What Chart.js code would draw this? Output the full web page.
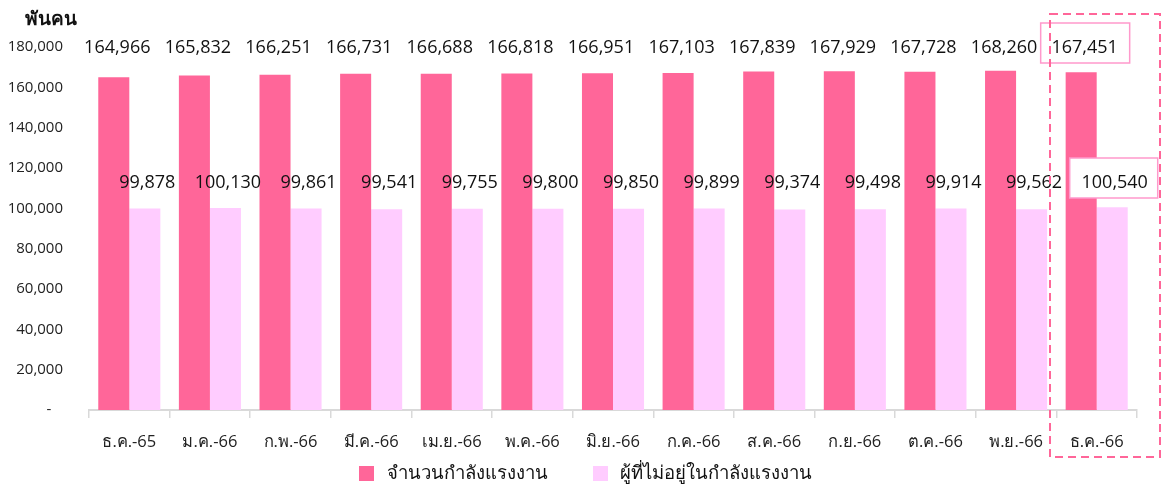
<!DOCTYPE html>
<html>
<head>
<meta charset="utf-8">
<script src="https://cdn.jsdelivr.net/npm/chart.js@4"></script>
<style>
  html, body { margin: 0; padding: 0; background: #fff; }
  #wrap { width: 1161px; height: 488px; position: relative; }
</style>
</head>
<body>
<div id="wrap"><canvas id="c" width="1161" height="488"></canvas></div>
<script>
// Monthly labour force figures (thousand persons)
const months = ['ธ.ค.-65','ม.ค.-66','ก.พ.-66','มี.ค.-66','เม.ย.-66','พ.ค.-66','มิ.ย.-66','ก.ค.-66','ส.ค.-66','ก.ย.-66','ต.ค.-66','พ.ย.-66','ธ.ค.-66'];
const labourForce = [164966,165832,166251,166731,166688,166818,166951,167103,167839,167929,167728,168260,167451];
const outsideLabourForce = [99878,100130,99861,99541,99755,99800,99850,99899,99374,99498,99914,99562,100540];
const seriesNames = ['จำนวนกำลังแรงงาน','ผู้ที่ไม่อยู่ในกำลังแรงงาน'];
const unitLabel = 'พันคน';
const yTicks = [0,20000,40000,60000,80000,100000,120000,140000,160000,180000];

const PINK = '#FF6699';
const LIGHT = '#FFCCFF';
const FONT = '"Open Sans", "Noto Sans", sans-serif';
const fmt = v => v.toLocaleString('en-US');

// Value labels, highlight boxes, dashed frame on the latest month, unit title and legend
const overlay = {
  id: 'overlay',
  afterDatasetsDraw(chart) {
    const ctx = chart.ctx;
    const m0 = chart.getDatasetMeta(0), m1 = chart.getDatasetMeta(1);
    const last = months.length - 1;
    ctx.save();
    ctx.font = '18px ' + FONT;
    ctx.textAlign = 'center';
    ctx.textBaseline = 'middle';
    // highlight boxes behind the latest values
    const b0 = m0.data[last], b1 = m1.data[last];
    ctx.lineWidth = 1.5;
    ctx.strokeStyle = '#FF99CC';
    ctx.fillStyle = '#fff';
    ctx.fillRect(b0.x + 3.5 - 44, 23, 89, 40);
    ctx.strokeRect(b0.x + 3.5 - 44, 23, 89, 40);
    ctx.fillRect(b1.x + 2.5 - 45, 158, 88, 40);
    ctx.strokeRect(b1.x + 2.5 - 45, 158, 88, 40);
    ctx.fillStyle = '#111';
    labourForce.forEach((v, i) => {
      ctx.fillText(fmt(v), m0.data[i].x + 3.5, 48);
    });
    outsideLabourForce.forEach((v, i) => {
      ctx.fillText(fmt(v), m1.data[i].x + 2.5, 183);
    });
    // dashed frame around the latest month
    ctx.setLineDash([8, 5]);
    ctx.lineWidth = 2;
    ctx.strokeStyle = PINK;
    ctx.strokeRect(1050, 14, 110, 443);
    ctx.setLineDash([]);
    // unit title
    ctx.font = 'bold 19px ' + FONT;
    ctx.textAlign = 'left';
    ctx.fillText(unitLabel, 25, 20);
    // legend
    ctx.font = '18.5px ' + FONT;
    ctx.fillStyle = PINK;
    ctx.fillRect(359, 466, 15, 15);
    ctx.fillStyle = LIGHT;
    ctx.fillRect(593, 466, 15, 15);
    ctx.fillStyle = '#111';
    ctx.fillText(seriesNames[0], 387, 474);
    ctx.fillText(seriesNames[1], 620, 474);
    ctx.restore();
  }
};

new Chart(document.getElementById('c'), {
  type: 'bar',
  data: {
    labels: months,
    datasets: [
      { label: seriesNames[0], data: labourForce, backgroundColor: PINK },
      { label: seriesNames[1], data: outsideLabourForce, backgroundColor: LIGHT }
    ]
  },
  options: {
    responsive: false,
    animation: false,
    layout: { padding: { top: 47, right: 24, bottom: 0, left: 0 } },
    datasets: { bar: { categoryPercentage: 0.77, barPercentage: 1.0 } },
    plugins: { legend: { display: false }, tooltip: { enabled: false } },
    scales: {
      x: {
        grid: { display: true, drawOnChartArea: false, drawTicks: true, tickLength: 8, color: '#d9d9d9', lineWidth: 1.5, offset: true },
        border: { display: true, color: '#d9d9d9', width: 2 },
        ticks: { color: '#222', font: { family: FONT, size: 16.5 }, padding: 14, maxRotation: 0, autoSkip: false },
        afterFit(s) { s.height = 78; }
      },
      y: {
        min: 0, max: 180000,
        afterBuildTicks(s) { s.ticks = yTicks.map(v => ({ value: v })); },
        grid: { display: false },
        border: { display: false },
        ticks: {
          color: '#222', font: { family: FONT, size: 15 }, padding: 18,
          callback: v => v === 0 ? '-   ' : fmt(v)
        },
        afterFit(s) { s.width = 89; }
      }
    }
  },
  plugins: [overlay]
});
</script>
</body>
</html>
